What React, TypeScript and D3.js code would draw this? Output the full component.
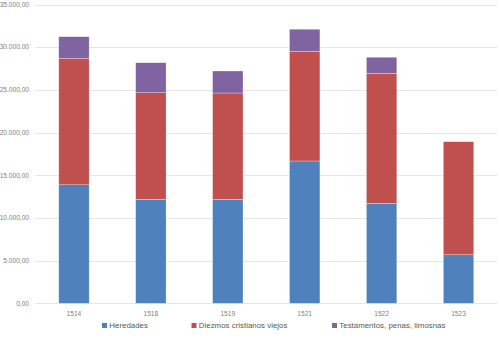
import React, { useEffect, useRef } from "react";
import * as d3 from "d3";

const years = ["1514", "1518", "1519", "1521", "1522", "1523"];
const heredades = [13890, 12180, 12180, 16670, 11710, 5690];
const diezmos = [14810, 12490, 12450, 12850, 15230, 13240];
const testamentos = [2530, 3510, 2580, 2580, 1880, 0];

const seriesNames = ["Heredades", "Diezmos cristianos viejos", "Testamentos, penas, limosnas"];
const seriesColors = ["#4F81BD", "#C0504D", "#8064A2"];
const yTicks = [0, 5000, 10000, 15000, 20000, 25000, 30000, 35000];

const fmt = (v: number) =>
  d3.format(",.2f")(v).replace(/,/g, "#").replace(".", ",").replace(/#/g, ".");

const App: React.FC = () => {
  const svgRef = useRef<SVGSVGElement | null>(null);

  useEffect(() => {
    if (!svgRef.current) return;
    const width = 500;
    const height = 354;
    const left = 35.5, right = 497, top = 4.5, bottom = 303.3;

    const svg = d3.select(svgRef.current);
    svg.selectAll("*").remove();
    svg.attr("width", width).attr("height", height);
    svg.append("rect").attr("width", width).attr("height", height).attr("fill", "#fff");

    const rows = years.map((y, i) => ({
      year: y,
      Heredades: heredades[i],
      "Diezmos cristianos viejos": diezmos[i],
      "Testamentos, penas, limosnas": testamentos[i],
    }));

    const x = d3.scaleBand<string>().domain(years).range([left, right]).paddingInner(0.605).paddingOuter(0.3025);
    const y = d3.scaleLinear().domain([0, 35000]).range([bottom, top]);

    // gridlines + y labels
    const grid = svg.append("g");
    grid.selectAll("line")
      .data(yTicks)
      .enter()
      .append("line")
      .attr("x1", left)
      .attr("x2", right)
      .attr("y1", d => Math.round(y(d)) + 0.5)
      .attr("y2", d => Math.round(y(d)) + 0.5)
      .attr("stroke", "#e6e6e6")
      .attr("stroke-width", 1);

    grid.selectAll("text")
      .data(yTicks)
      .enter()
      .append("text")
      .attr("x", 29)
      .attr("y", d => y(d))
      .attr("dy", "0.35em")
      .attr("text-anchor", "end")
      .style("font-family", "Liberation Sans, Arial, sans-serif")
      .style("font-size", "6.6px")
      .attr("fill", "#7f7f7f")
      .text(d => fmt(d));

    const stack = d3.stack<any>().keys(seriesNames);
    const layers = stack(rows);

    svg.append("g")
      .selectAll("g")
      .data(layers)
      .enter()
      .append("g")
      .attr("fill", (_, i) => seriesColors[i])
      .selectAll("rect")
      .data(d => d.filter(p => p[1] - p[0] > 0))
      .enter()
      .append("rect")
      .attr("x", d => x(d.data.year)!)
      .attr("width", x.bandwidth())
      .attr("y", d => y(d[1]))
      .attr("height", d => y(d[0]) - y(d[1]))
      .attr("stroke", "rgba(255,255,255,0.45)")
      .attr("stroke-width", 0.6);

    // category labels
    svg.append("g")
      .selectAll("text")
      .data(years)
      .enter()
      .append("text")
      .attr("x", d => x(d)! + x.bandwidth() / 2)
      .attr("y", 313.5)
      .attr("dy", "0.35em")
      .attr("text-anchor", "middle")
      .style("font-family", "Liberation Sans, Arial, sans-serif")
      .style("font-size", "6.6px")
      .attr("fill", "#7f7f7f")
      .text(d => d);

    // legend
    const legendX = [102, 191.5, 332];
    const legend = svg.append("g")
      .selectAll("g")
      .data(seriesNames)
      .enter()
      .append("g")
      .attr("transform", (_, i) => `translate(${legendX[i]},325.5)`);
    legend.append("rect")
      .attr("x", 0)
      .attr("y", -2.5)
      .attr("width", 5)
      .attr("height", 5)
      .attr("fill", (_, i) => seriesColors[i]);
    legend.append("text")
      .attr("x", 7.3)
      .attr("y", 0)
      .attr("dy", "0.35em")
      .style("font-family", "Liberation Sans, Arial, sans-serif")
      .style("font-size", "7.9px")
      .attr("fill", "#595959")
      .text(d => d);
  }, []);

  return <svg ref={svgRef} style={{ position: "absolute", left: 0, top: 0 }}></svg>;
};

export default App;
